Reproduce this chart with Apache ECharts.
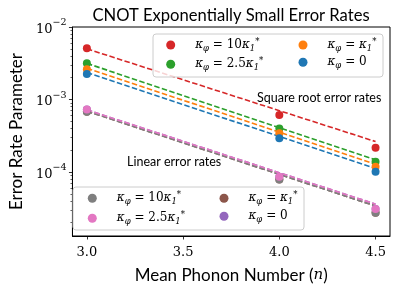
<!DOCTYPE html>
<html><head><meta charset="utf-8">
<script src="https://cdn.jsdelivr.net/npm/echarts@6/dist/echarts.min.js"></script>
<style>html,body{margin:0;padding:0;background:#fff}#c{width:398px;height:290px}</style>
</head><body><div id="c"></div>
<script>
// ---- data ----
const xValues = [3.0, 4.0, 4.5];
const fitX = [3.0, 4.5];
// square-root error rates (points)
const sqrt10 = [5.1e-3, 6.1e-4, 2.16e-4];
const sqrt25 = [3.15e-3, 3.97e-4, 1.38e-4];
const sqrt1 = [2.61e-3, 3.42e-4, 1.18e-4];
const sqrt0 = [2.25e-3, 2.92e-4, 1.01e-4];
// square-root fitted lines (endpoints at n=3.0, 4.5)
const sqrtFit10 = [5.0e-3, 2.63e-4];
const sqrtFit25 = [3.15e-3, 1.47e-4];
const sqrtFit1 = [2.7e-3, 1.28e-4];
const sqrtFit0 = [2.35e-3, 1.12e-4];
// linear error rates (points)
const lin10 = [6.8e-4, 7.9e-5, 2.75e-5];
const lin25 = [7.3e-4, 8.6e-5, 3.1e-5];
const lin1 = [6.8e-4, 7.9e-5, 2.75e-5];
const lin0 = [7.3e-4, 8.6e-5, 3.1e-5];
// linear fitted lines
const linFit10 = [6.9e-4, 3.4e-5];
const linFit25 = [7.2e-4, 3.6e-5];
const linFit1 = [6.9e-4, 3.4e-5];
const linFit0 = [7.2e-4, 3.6e-5];
const xTicks = [3.0, 3.5, 4.0, 4.5];
const yMajor = [1e-4, 1e-3, 1e-2];
const yMinor = [];
[1e-5, 1e-4, 1e-3].forEach(d => { for (let k = 2; k <= 9; k++) { const v = k * d; if (v >= 1.31e-5) yMinor.push(v); } });

const names = {
  s10: 'κφ = 10κ1* ', s25: 'κφ = 2.5κ1* ', s1: 'κφ = κ1* ', s0: 'κφ = 0 ',
  l10: 'κφ = 10κ1*', l25: 'κφ = 2.5κ1*', l1: 'κφ = κ1*', l0: 'κφ = 0'
};
const C = {red:'#d62728', green:'#2ca02c', orange:'#ff7f0e', blue:'#1f77b4', gray:'#7f7f7f', pink:'#e377c2', brown:'#8c564b', purple:'#9467bd'};

function pts(ys) { return xValues.map((x, i) => [x, ys[i]]); }
function fit(ys) { return fitX.map((x, i) => [x, ys[i]]); }
function scatter(name, ys, color, z) {
  return {type:'scatter', name, data: pts(ys), symbolSize: 8, itemStyle:{color, opacity:1}, z, xAxisIndex:0, yAxisIndex:0};
}
function line(name, ys, color, z) {
  return {type:'line', name, data: fit(ys), showSymbol:false, symbol:'none', itemStyle:{color}, lineStyle:{color, width:1.6, type:[5.5,2.4]}, z, silent:true, xAxisIndex:0, yAxisIndex:0};
}

const legendRich = {
  g:{width:15, fontSize:12, lineHeight:16},
  k:{fontFamily:'DejaVu Serif', fontStyle:'italic', fontSize:12, lineHeight:16, color:'#000'},
  sub:{fontFamily:'DejaVu Serif', fontStyle:'italic', fontSize:8.5, lineHeight:7, verticalAlign:'bottom', color:'#000'},
  sup:{fontFamily:'DejaVu Serif', fontSize:8.5, lineHeight:7, verticalAlign:'top', color:'#000'},
  t:{fontFamily:'DejaVu Serif', fontSize:12, lineHeight:16, color:'#000'}
};
function legendFmt(name) {
  const n = name.trim();
  let s = '{g| }{k|κ}{sub|φ}';
  if (n === 'κφ = 10κ1*') return s + '{t| = 10}{k|κ}{sub|1}{sup|*}';
  if (n === 'κφ = 2.5κ1*') return s + '{t| = 2.5}{k|κ}{sub|1}{sup|*}';
  if (n === 'κφ = κ1*') return s + '{t| = }{k|κ}{sub|1}{sup|*}';
  return s + '{t| = 0}';
}
function legend(data, left, top, gap) {
  return {orient:'vertical', left, top, padding:0, itemGap:gap, itemWidth:9, itemHeight:9, icon:'circle', data,
    formatter: legendFmt, textStyle:{rich: legendRich, padding:0}, z:6, selectedMode:false};
}

const chart = echarts.init(document.getElementById('c'), null, {renderer:'canvas'});
chart.setOption({
  animation:false,
  title:{text:'CNOT Exponentially Small Error Rates', left:226, textAlign:'center', top:2,
    textStyle:{fontFamily:'Lato', fontWeight:'normal', fontSize:16.6, color:'#000'}},
  grid:{left:67, right:8, top:27, bottom:54, show:true, borderColor:'#000', borderWidth:1, backgroundColor:'transparent'},
  xAxis:[{type:'value', min:2.925, max:4.575,
    name:'{t|Mean Phonon Number (}{i|n}{t|)}', nameLocation:'middle', nameGap:31,
    nameTextStyle:{rich:{t:{fontFamily:'Lato', fontSize:17, color:'#000'}, i:{fontFamily:'DejaVu Serif', fontStyle:'italic', fontSize:15, color:'#000'}}},
    axisLine:{show:true, onZero:false, lineStyle:{color:'#000', width:1}},
    axisTick:{show:true, length:3.5, lineStyle:{color:'#000', width:0.8}, customValues:xTicks},
    axisLabel:{customValues:xTicks, margin:10, fontFamily:'DejaVu Serif', fontSize:13, color:'#000', formatter:v=>v.toFixed(1)},
    splitLine:{show:false}}],
  yAxis:[
    {type:'log', logBase:10, min:1.31e-5, max:1e-2,
      name:'Error Rate Parameter', nameLocation:'middle', nameGap:44,
      nameTextStyle:{fontFamily:'Lato', fontSize:17, color:'#000'},
      axisLine:{show:true, lineStyle:{color:'#000', width:1}},
      axisTick:{show:true, length:3.5, customValues:yMajor, lineStyle:{color:'#000', width:0.8}},
      axisLabel:{customValues:yMajor, margin:6, formatter:v=>'{b|10}{s|−' + Math.round(-Math.log10(v)) + '}',
        rich:{b:{fontFamily:'DejaVu Serif', fontSize:13, color:'#000', lineHeight:18, verticalAlign:'bottom'}, s:{fontFamily:'DejaVu Serif', fontSize:9.5, color:'#000', verticalAlign:'top', lineHeight:18}}},
      splitLine:{show:false}, minorTick:{show:false}},
    {type:'log', logBase:10, min:1.31e-5, max:1e-2, position:'left',
      axisLine:{show:false}, axisLabel:{show:false},
      axisTick:{show:true, length:2, customValues:yMinor, lineStyle:{color:'#000', width:0.6}},
      splitLine:{show:false}}
  ],
  legend:[
    legend([names.s10, names.s25], 166.2, 37, 3.3),
    legend([names.s1, names.s0], 298.5, 37, 3.3),
    legend([names.l10, names.l25], 87.8, 190.3, 4),
    legend([names.l1, names.l0], 219.5, 190.3, 4)
  ],
  graphic:[
    {type:'rect', z:5, shape:{x:153, y:34, width:230, height:43, r:3}, style:{fill:'rgba(255,255,255,0.8)', stroke:'#cccccc', lineWidth:1}},
    {type:'rect', z:5, shape:{x:73, y:187, width:231, height:43, r:3}, style:{fill:'rgba(255,255,255,0.8)', stroke:'#cccccc', lineWidth:1}},
    {type:'text', z:5, left:257, top:91, style:{text:'Square root error rates', font:'12.5px Lato', fill:'#000'}},
    {type:'text', z:5, left:127, top:155, style:{text:'Linear error rates', font:'12.5px Lato', fill:'#000'}}
  ],
  series:[
    line(names.l1, linFit1, C.brown, 2), line(names.l0, linFit0, C.purple, 2),
    line(names.l10, linFit10, C.gray, 2), line(names.l25, linFit25, C.pink, 2),
    line(names.s10, sqrtFit10, C.red, 2), line(names.s25, sqrtFit25, C.green, 2),
    line(names.s1, sqrtFit1, C.orange, 2), line(names.s0, sqrtFit0, C.blue, 2),
    scatter(names.l1, lin1, C.brown, 3), scatter(names.l0, lin0, C.purple, 3),
    scatter(names.l10, lin10, C.gray, 3), scatter(names.l25, lin25, C.pink, 3),
    scatter(names.s10, sqrt10, C.red, 3), scatter(names.s25, sqrt25, C.green, 3),
    scatter(names.s1, sqrt1, C.orange, 3), scatter(names.s0, sqrt0, C.blue, 3)
  ]
});
</script></body></html>
